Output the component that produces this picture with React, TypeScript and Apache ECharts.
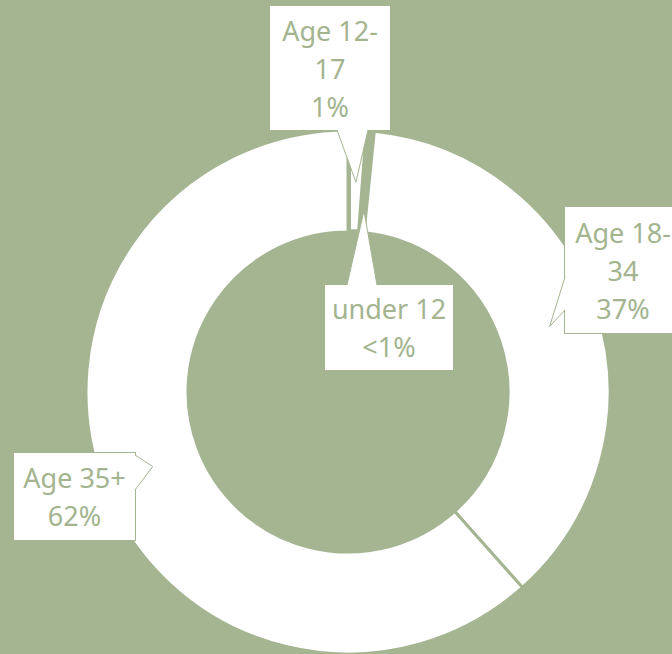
import React, { useEffect, useRef } from "react";
import * as echarts from "echarts";

// ---- data ----
const categories = ["Age 12-17", "under 12", "Age 18-34", "Age 35+"];
const values = [1.2, 0.4, 36.8, 61.6];
const percentLabels = ["1%", "<1%", "37%", "62%"];
const nameLines = [["Age 12-", "17"], ["under 12"], ["Age 18-", "34"], ["Age 35+"]];

// ---- layout / style ----
const BG = "#a5b592";
const TEXT = "#a3b48f";
const CX = 348;
const CY = 392;
const R_IN = 160;
const R_OUT = 262;
const FONT = 27;
const LH = 38;

// label boxes (centre, size)
const boxes = [
  { cx: 330, cy: 68, w: 120, h: 124 },
  { cx: 389, cy: 327.5, w: 128, h: 85 },
  { cx: 623, cy: 270, w: 116, h: 126 },
  { cx: 74.5, cy: 496.5, w: 121, h: 87 },
];
// callout pointers: which box edge, span along that edge, radius of the tip
const pointers = [
  { side: "bottom", a: 337, b: 368, r: 210 },
  { side: "top", a: 347, b: 377, r: 182 },
  { side: "left", a: 277, b: 310, r: 212 },
  { side: "right", a: 455, b: 490, r: 209 },
];

function midAngles(): number[] {
  const total = values.reduce((s, v) => s + v, 0);
  let acc = 0;
  return values.map((v) => {
    const m = ((acc + v / 2) / total) * 360;
    acc += v;
    return m;
  });
}

function pointerGraphics() {
  const mids = midAngles();
  const out: any[] = [];
  pointers.forEach((p, i) => {
    const b = boxes[i];
    const th = (mids[i] * Math.PI) / 180;
    const tip = [CX + p.r * Math.sin(th), CY - p.r * Math.cos(th)];
    let e1: number[], e2: number[], i1: number[], i2: number[];
    const left = b.cx - b.w / 2;
    const right = b.cx + b.w / 2;
    const top = b.cy - b.h / 2;
    const bottom = b.cy + b.h / 2;
    if (p.side === "bottom") {
      e1 = [p.a, bottom]; e2 = [p.b, bottom]; i1 = [p.a, bottom - 3]; i2 = [p.b, bottom - 3];
    } else if (p.side === "top") {
      e1 = [p.a, top]; e2 = [p.b, top]; i1 = [p.a, top + 3]; i2 = [p.b, top + 3];
    } else if (p.side === "left") {
      e1 = [left, p.a]; e2 = [left, p.b]; i1 = [left + 3, p.a]; i2 = [left + 3, p.b];
    } else {
      e1 = [right, p.a]; e2 = [right, p.b]; i1 = [right - 3, p.a]; i2 = [right - 3, p.b];
    }
    out.push({
      type: "polygon",
      z: 100,
      silent: true,
      shape: { points: [i1, e1, tip, e2, i2] },
      style: { fill: "#ffffff", stroke: null },
    });
    out.push({
      type: "polyline",
      z: 101,
      silent: true,
      shape: { points: [e1, tip, e2] },
      style: { stroke: BG, lineWidth: 1, fill: null },
    });
  });
  return out;
}

export default function App() {
  const ref = useRef<HTMLDivElement>(null);
  useEffect(() => {
    if (!ref.current) return;
    const chart = echarts.init(ref.current, null, { renderer: "svg" });
    const data = categories.map((name, i) => {
      const b = boxes[i];
      const lines = nameLines[i].length + 1;
      const padY = (b.h - lines * LH) / 2;
      return {
        name,
        value: values[i],
        itemStyle:
          i === 1
            ? { color: BG, borderColor: BG, borderWidth: 3 }
            : { color: "#ffffff", borderColor: BG, borderWidth: i === 0 ? 6 : 3 },
        label: {
          width: b.w - 8,
          padding: [padY, 4, padY, 4],
        },
      };
    });
    chart.setOption({
      animation: false,
      backgroundColor: BG,
      graphic: pointerGraphics(),
      series: [
        {
          type: "pie",
          center: [CX, CY],
          radius: [R_IN, R_OUT],
          startAngle: 90,
          clockwise: true,
          avoidLabelOverlap: false,
          emphasis: { disabled: true },
          data,
          label: {
            show: true,
            position: "outside",
            formatter: (p: any) =>
              [...nameLines[p.dataIndex], percentLabels[p.dataIndex]].join("\n"),
            color: TEXT,
            fontFamily: "Noto Sans",
            fontSize: FONT,
            lineHeight: LH,
            align: "center",
            backgroundColor: "#ffffff",
            borderColor: BG,
            borderWidth: 1,
          },
          labelLine: { show: false },
          labelLayout: (params: any) => {
            const b = boxes[params.dataIndex];
            return {
              x: b.cx,
              y: b.cy,
              align: "center",
              verticalAlign: "middle",
              hideOverlap: false,
            };
          },
        },
      ],
    });
    return () => chart.dispose();
  }, []);
  return (
    <div
      ref={ref}
      style={{ position: "absolute", left: 0, top: 0, width: 672, height: 654 }}
    />
  );
}
